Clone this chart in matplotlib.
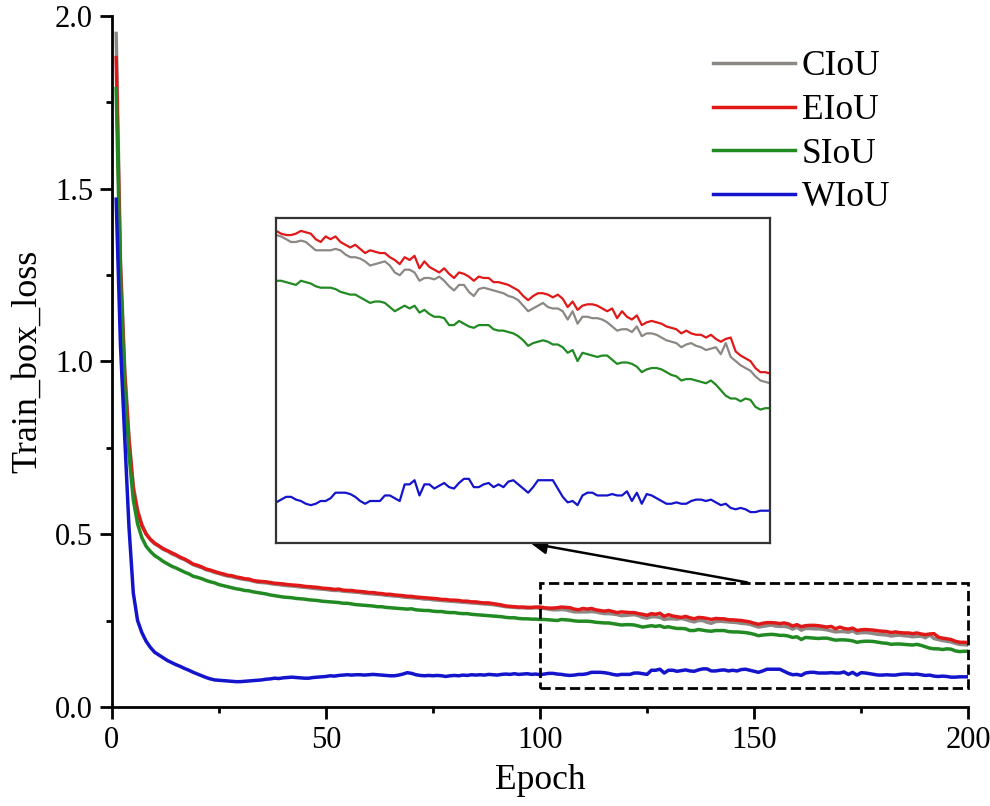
import matplotlib
matplotlib.use('Agg')
import matplotlib.pyplot as plt
from matplotlib.patches import Rectangle
from matplotlib.ticker import MultipleLocator
import numpy as np

plt.rcParams['font.family'] = ['Liberation Serif', 'DejaVu Serif']

# Data
epochs = list(range(1, 201))

ciou = [
    1.95, 1.30, 0.98, 0.78, 0.64, 0.570, 0.528, 0.502, 0.484, 0.472,
    0.465, 0.456, 0.451, 0.443, 0.438, 0.431, 0.426, 0.419, 0.412, 0.407,
    0.403, 0.397, 0.394, 0.389, 0.386, 0.382, 0.379, 0.377, 0.374, 0.371,
    0.369, 0.367, 0.364, 0.361, 0.360, 0.359, 0.357, 0.355, 0.354, 0.352,
    0.351, 0.350, 0.349, 0.347, 0.346, 0.345, 0.343, 0.342, 0.341, 0.340,
    0.338, 0.337, 0.337, 0.335, 0.334, 0.333, 0.332, 0.331, 0.329, 0.328,
    0.327, 0.326, 0.325, 0.323, 0.322, 0.321, 0.320, 0.318, 0.317, 0.316,
    0.315, 0.314, 0.312, 0.312, 0.310, 0.309, 0.308, 0.307, 0.306, 0.305,
    0.304, 0.303, 0.302, 0.301, 0.300, 0.299, 0.298, 0.297, 0.296, 0.294,
    0.292, 0.290, 0.289, 0.288, 0.287, 0.287, 0.286, 0.286, 0.287,
    0.286, 0.285, 0.283, 0.281, 0.281, 0.282, 0.281, 0.278, 0.275, 0.275,
    0.275, 0.275, 0.276, 0.275, 0.272, 0.270, 0.270, 0.269, 0.267, 0.264,
    0.265, 0.266, 0.267, 0.264, 0.259, 0.257, 0.261, 0.261, 0.259, 0.253,
    0.255, 0.255, 0.254, 0.256, 0.253, 0.249, 0.246, 0.250, 0.250, 0.245,
    0.242, 0.247, 0.248, 0.247, 0.246, 0.245, 0.244, 0.242, 0.241, 0.239,
    0.235, 0.231, 0.233, 0.235, 0.237, 0.234, 0.233, 0.233, 0.231, 0.225,
    0.231, 0.222, 0.227, 0.227, 0.226, 0.226, 0.225, 0.223, 0.220, 0.217,
    0.218, 0.218, 0.216, 0.220, 0.213, 0.215, 0.215, 0.214, 0.212, 0.210,
    0.209, 0.208, 0.205, 0.207, 0.208, 0.206, 0.205, 0.203, 0.204, 0.205,
    0.200, 0.208, 0.198, 0.195, 0.192, 0.190, 0.188, 0.184, 0.181, 0.180,
    0.179,
]

eiou = [
    1.88, 1.27, 0.96, 0.77, 0.63, 0.565, 0.525, 0.500, 0.485, 0.474,
    0.466, 0.458, 0.452, 0.446, 0.440, 0.433, 0.428, 0.421, 0.413, 0.410,
    0.405, 0.399, 0.396, 0.392, 0.388, 0.385, 0.381, 0.380, 0.376, 0.374,
    0.371, 0.370, 0.366, 0.364, 0.363, 0.362, 0.360, 0.358, 0.357, 0.356,
    0.354, 0.353, 0.352, 0.351, 0.349, 0.348, 0.347, 0.346, 0.344, 0.343,
    0.342, 0.340, 0.341, 0.338, 0.337, 0.337, 0.335, 0.334, 0.333, 0.331,
    0.331, 0.329, 0.328, 0.326, 0.326, 0.324, 0.323, 0.322, 0.320, 0.320,
    0.318, 0.317, 0.316, 0.315, 0.314, 0.313, 0.311, 0.311, 0.309, 0.309,
    0.308, 0.306, 0.306, 0.304, 0.304, 0.302, 0.301, 0.301, 0.299, 0.297,
    0.295, 0.292, 0.291, 0.290, 0.289, 0.289, 0.288, 0.288, 0.289,
    0.289, 0.287, 0.286, 0.286, 0.287, 0.289, 0.288, 0.287, 0.283, 0.281,
    0.285, 0.283, 0.285, 0.281, 0.279, 0.277, 0.279, 0.276, 0.273, 0.275,
    0.274, 0.273, 0.273, 0.270, 0.268, 0.265, 0.270, 0.268, 0.271, 0.262,
    0.267, 0.263, 0.261, 0.259, 0.262, 0.258, 0.255, 0.259, 0.258, 0.256,
    0.253, 0.256, 0.255, 0.255, 0.252, 0.252, 0.251, 0.250, 0.248, 0.246,
    0.242, 0.239, 0.242, 0.244, 0.244, 0.243, 0.241, 0.243, 0.240, 0.234,
    0.238, 0.232, 0.235, 0.236, 0.236, 0.235, 0.233, 0.231, 0.233, 0.226,
    0.231, 0.227, 0.225, 0.228, 0.221, 0.223, 0.224, 0.223, 0.222, 0.220,
    0.219, 0.218, 0.215, 0.217, 0.215, 0.214, 0.214, 0.212, 0.214, 0.211,
    0.209, 0.211, 0.212, 0.202, 0.199, 0.197, 0.195, 0.190, 0.187, 0.187,
    0.186,
]

siou = [
    1.79, 1.24, 0.93, 0.73, 0.60, 0.53, 0.49, 0.465, 0.450, 0.438,
    0.430, 0.421, 0.414, 0.407, 0.402, 0.396, 0.390, 0.385, 0.378, 0.375,
    0.371, 0.366, 0.362, 0.359, 0.354, 0.351, 0.348, 0.345, 0.342, 0.340,
    0.337, 0.336, 0.333, 0.331, 0.329, 0.327, 0.324, 0.322, 0.320, 0.318,
    0.317, 0.316, 0.314, 0.313, 0.312, 0.310, 0.309, 0.308, 0.306, 0.305,
    0.304, 0.303, 0.302, 0.300, 0.300, 0.298, 0.296, 0.295, 0.294, 0.293,
    0.292, 0.290, 0.290, 0.288, 0.287, 0.286, 0.285, 0.284, 0.283, 0.284,
    0.281, 0.280, 0.279, 0.279, 0.277, 0.276, 0.276, 0.274, 0.273, 0.273,
    0.271, 0.270, 0.270, 0.268, 0.267, 0.266, 0.265, 0.264, 0.263, 0.262,
    0.261, 0.259, 0.258, 0.258, 0.256, 0.255, 0.255, 0.254, 0.254,
    0.253, 0.253, 0.252, 0.251, 0.250, 0.253, 0.252, 0.251, 0.249, 0.248,
    0.248, 0.248, 0.247, 0.245, 0.244, 0.243, 0.243, 0.241, 0.239, 0.237,
    0.238, 0.238, 0.237, 0.234, 0.231, 0.233, 0.235, 0.233, 0.235, 0.230,
    0.232, 0.229, 0.227, 0.227, 0.226, 0.221, 0.221, 0.224, 0.222, 0.220,
    0.219, 0.221, 0.221, 0.221, 0.218, 0.217, 0.217, 0.216, 0.215, 0.213,
    0.210, 0.206, 0.208, 0.209, 0.210, 0.209, 0.207, 0.207, 0.205, 0.201,
    0.203, 0.195, 0.201, 0.200, 0.199, 0.198, 0.199, 0.199, 0.196, 0.193,
    0.194, 0.194, 0.193, 0.191, 0.187, 0.189, 0.190, 0.190, 0.189, 0.187,
    0.185, 0.184, 0.181, 0.182, 0.182, 0.181, 0.180, 0.179, 0.181, 0.178,
    0.174, 0.170, 0.168, 0.168, 0.166, 0.168, 0.167, 0.162, 0.160, 0.161,
    0.161,
]

wiou = [
    1.47, 1.05, 0.78, 0.52, 0.33, 0.25, 0.215, 0.190, 0.172, 0.158,
    0.150, 0.142, 0.134, 0.128, 0.122, 0.117, 0.111, 0.106, 0.100, 0.095,
    0.090, 0.085, 0.081, 0.078, 0.077, 0.076, 0.075, 0.074, 0.073, 0.073,
    0.074, 0.075, 0.076, 0.077, 0.078, 0.080, 0.081, 0.083, 0.082, 0.084,
    0.085, 0.086, 0.085, 0.084, 0.083, 0.083, 0.085, 0.086, 0.087, 0.088,
    0.090, 0.089, 0.091, 0.092, 0.093, 0.092, 0.093, 0.093, 0.092, 0.093,
    0.094, 0.093, 0.092, 0.091, 0.090, 0.090, 0.092, 0.095, 0.099, 0.097,
    0.093, 0.091, 0.090, 0.091, 0.090, 0.091, 0.090, 0.088, 0.090, 0.091,
    0.090, 0.092, 0.091, 0.093, 0.092, 0.093, 0.092, 0.094, 0.093, 0.092,
    0.094, 0.095, 0.094, 0.096, 0.094, 0.095, 0.096, 0.094, 0.095,
    0.093, 0.095, 0.097, 0.097, 0.095, 0.094, 0.092, 0.091, 0.092, 0.094,
    0.094, 0.096, 0.100, 0.100, 0.100, 0.099, 0.097, 0.094, 0.092, 0.094,
    0.094, 0.094, 0.098, 0.098, 0.096, 0.094, 0.106, 0.106, 0.109, 0.098,
    0.106, 0.106, 0.103, 0.105, 0.107, 0.104, 0.103, 0.107, 0.110, 0.110,
    0.104, 0.104, 0.106, 0.107, 0.104, 0.106, 0.104, 0.108, 0.109, 0.106,
    0.103, 0.100, 0.104, 0.109, 0.109, 0.109, 0.109, 0.103, 0.097, 0.093,
    0.094, 0.091, 0.098, 0.100, 0.100, 0.098, 0.098, 0.098, 0.099, 0.098,
    0.098, 0.101, 0.094, 0.100, 0.092, 0.099, 0.098, 0.096, 0.094, 0.092,
    0.092, 0.093, 0.092, 0.092, 0.094, 0.095, 0.095, 0.094, 0.095, 0.093,
    0.091, 0.092, 0.089, 0.088, 0.089, 0.088, 0.086, 0.086, 0.087, 0.087,
    0.087,
]

labels = ['CIoU', 'EIoU', 'SIoU', 'WIoU']
colors = ['#8c8884', '#e01818', '#228a22', '#1414cc']
series = [ciou, eiou, siou, wiou]

fig = plt.figure(figsize=(9.9, 8.06), dpi=100)
ax = fig.add_axes([0.113, 0.123, 0.865, 0.857])

for y, lab, c in zip(series, labels, colors):
    ax.plot(epochs, y, color=c, lw=2.5, label=lab)

ax.set_xlim(0, 200)
ax.set_ylim(0, 2.0)
ax.xaxis.set_major_locator(MultipleLocator(50))
ax.xaxis.set_minor_locator(MultipleLocator(25))
ax.yaxis.set_major_locator(MultipleLocator(0.5))
ax.yaxis.set_minor_locator(MultipleLocator(0.25))
ax.yaxis.set_major_formatter(matplotlib.ticker.FormatStrFormatter('%.1f'))
ax.spines['top'].set_visible(False)
ax.spines['right'].set_visible(False)
for s in ['left', 'bottom']:
    ax.spines[s].set_linewidth(2.0)
ax.tick_params(which='major', direction='out', length=8.5, width=2.0, labelsize=22, pad=5)
ax.tick_params(which='minor', direction='out', length=4.5, width=2.0)
ax.set_xlabel('Epoch', fontsize=25.5, labelpad=7)
ax.set_ylabel('Train_box_loss', fontsize=26, labelpad=8)

leg = ax.legend(loc='upper left', bbox_to_anchor=(0.706, 0.955), bbox_transform=fig.transFigure,
                frameon=False, fontsize=25.5, handlelength=2.3, handletextpad=0.2,
                labelspacing=0.3, borderaxespad=0)
for line in leg.get_lines():
    line.set_linewidth(2.5)

# dashed box marking the zoomed region
ax.add_patch(Rectangle((100, 0.055), 100, 0.305, fill=False, ls='--', lw=2.0,
                       edgecolor='black', clip_on=False, zorder=5))

# inset axes
axin = fig.add_axes([0.279, 0.326, 0.499, 0.403])
ep = np.array(epochs)
mask = ep >= 100
for y, c in zip(series, colors):
    axin.plot(ep[mask], np.array(y)[mask], color=c, lw=1.6)
axin.set_xlim(100, 200)
axin.set_ylim(0.0635, 0.298)
axin.set_xticks([])
axin.set_yticks([])
for s in axin.spines.values():
    s.set_linewidth(1.6)
    s.set_edgecolor('#333333')

# arrow from dashed box to inset
ax.annotate('', xy=(97.2, 0.475), xytext=(149.0, 0.359),
            arrowprops=dict(arrowstyle='-|>', color='black', lw=1.8, mutation_scale=24),
            annotation_clip=False)

fig.savefig('out.png', dpi=100)
